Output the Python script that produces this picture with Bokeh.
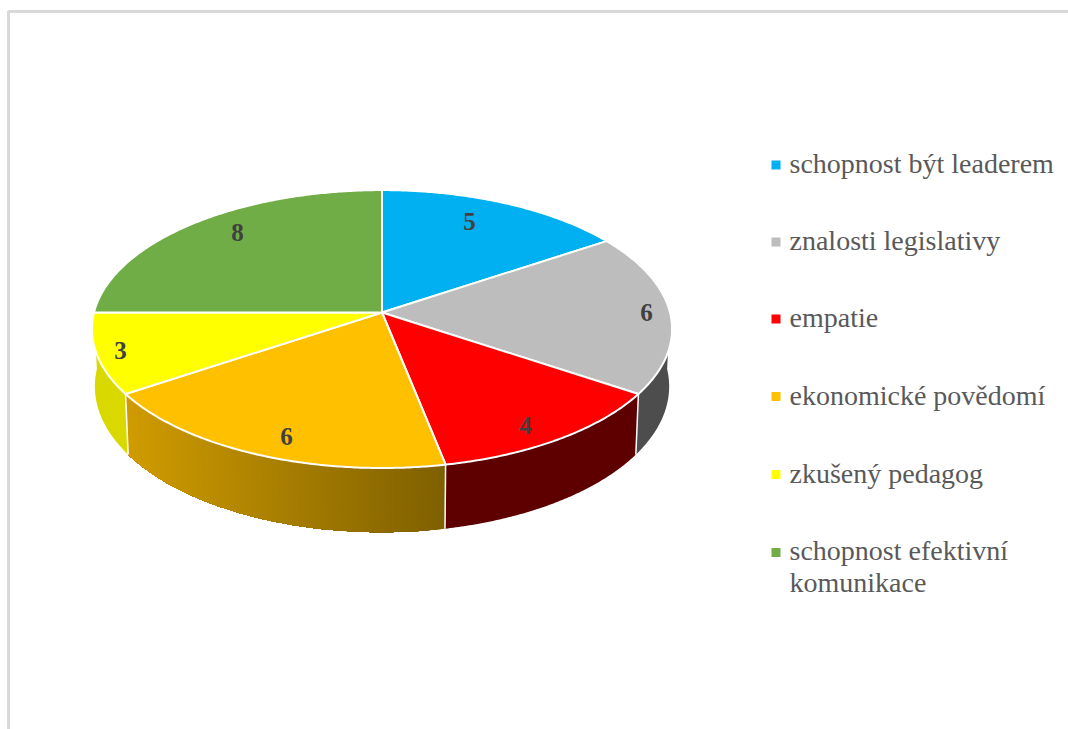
import math

from bokeh.core.properties import value
from bokeh.embed import file_html
from bokeh.models import Range1d
from bokeh.plotting import figure
from bokeh.resources import INLINE

# Share of each competency, clockwise from twelve o'clock
categories = ["schopnost být leaderem", "znalosti legislativy", "empatie",
              "ekonomické povědomí", "zkušený pedagog", "schopnost efektivní komunikace"]
counts = [5, 6, 4, 6, 3, 8]
top_colors = ["#00B0F0", "#BDBDBD", "#FF0000", "#FFC000", "#FFFF00", "#70AD47"]
# Side wall shade at the left and right end of each slice as seen on screen
wall_left = ["#008AB8", "#4D4D4D", "#5E0000", "#D09C00", "#D9D900", "#577F37"]
wall_right = ["#008AB8", "#4D4D4D", "#5E0000", "#7F6000", "#D9D900", "#577F37"]

legend_lines = [["schopnost být leaderem"], ["znalosti legislativy"], ["empatie"],
                ["ekonomické povědomí"], ["zkušený pedagog"],
                ["schopnost efektivní", "komunikace"]]
legend_marker_y = [164.5, 241.5, 318.5, 396, 474, 552]
legend_text_y = [163, 240, 317, 395, 473, 550]
label_x = [469, 646, 525, 286, 120, 237]
label_y = [221, 312, 425, 436, 350, 232]

# Projection of the tilted disc
CX, CY = 381.5, 312.0
RX, RY = 288.0, 137.0
PERSPECTIVE = 0.119
DEPTH = 56.6
FLOOR_SHRINK = 0.99
FONT = value("Liberation Serif")


def rim(theta_deg, lowered=False):
    t = math.radians(theta_deg)
    u, v = math.sin(t), -math.cos(t)
    s = 1.0 / (1.0 - PERSPECTIVE * v)
    x, y = RX * u * s, RY * v * s
    if lowered:
        return CX + x * FLOOR_SHRINK, CY + y + DEPTH * s
    return CX + x, CY + y


def arc(a, b, lowered=False):
    n = max(2, int(abs(b - a) * 2))
    return [rim(a + (b - a) * i / n, lowered) for i in range(n + 1)]


def blend(c1, c2, f):
    a = [int(c1[i:i + 2], 16) for i in (1, 3, 5)]
    b = [int(c2[i:i + 2], 16) for i in (1, 3, 5)]
    return "#%02x%02x%02x" % tuple(round(p + (q - p) * f) for p, q in zip(a, b))


p = figure(width=1068, height=729, output_backend="svg", toolbar_location=None,
           x_range=Range1d(0, 1068), y_range=Range1d(729, 0),
           min_border=0, background_fill_color="white", border_fill_color="white")
p.axis.visible = False
p.grid.visible = False
p.outline_line_color = None

# Chart area frame
p.line([8, 8, 1068], [729, 11, 11], line_color="#D9D9D9", line_width=3)

total = sum(counts)
edges = [0.0]
for c in counts:
    edges.append(edges[-1] + 360.0 * c / total)

# Side walls of the front half; each band runs on to the end of its slice and
# the next band paints over it, so no seams appear between the shades
for i in range(len(counts)):
    a = max(edges[i], 90.0)
    b = min(edges[i + 1], 270.0)
    if a >= b:
        continue
    x_a, x_b = rim(a)[0], rim(b)[0]
    x_min, x_max = min(x_a, x_b), max(x_a, x_b)
    solid = wall_left[i] == wall_right[i]
    steps = 1 if solid else int(b - a) * 2
    for k in range(steps):
        a0 = a + (b - a) * k / steps
        ring = arc(a0, b) + arc(a0, b, True)[::-1]
        f = (rim(a0)[0] - x_min) / (x_max - x_min)
        col = blend(wall_left[i], wall_right[i], f)
        p.patch([q[0] for q in ring], [q[1] for q in ring], fill_color=col, line_color=None)

# Thin white seams where neighbouring walls meet
for e in edges[1:-1]:
    if 90 < e < 270:
        t0, t1 = rim(e), rim(e, True)
        p.line([t0[0], t1[0]], [t0[1], t1[1]], line_color="white", line_width=1.5)

# Top face
for i in range(len(counts)):
    pts = [(CX, CY)] + arc(edges[i], edges[i + 1])
    p.patch([q[0] for q in pts], [q[1] for q in pts], fill_color=top_colors[i],
            line_color="white", line_width=2, line_join="round")

# Value labels
p.text(label_x, label_y, text=[str(c) for c in counts], text_font=FONT,
       text_font_style="bold", text_font_size="25px", text_color="#404040",
       text_align="center", text_baseline="middle")

# Legend
p.rect([775.5] * len(top_colors), legend_marker_y, width=9, height=9,
       fill_color=top_colors, line_color=None)
for lines, y in zip(legend_lines, legend_text_y):
    for j, line in enumerate(lines):
        p.text([789], [y + j * 32], text=[line], text_font=FONT,
               text_font_size="28px", text_color="#595959",
               text_align="left", text_baseline="middle")

open("out.html", "w").write(file_html(p, INLINE))
